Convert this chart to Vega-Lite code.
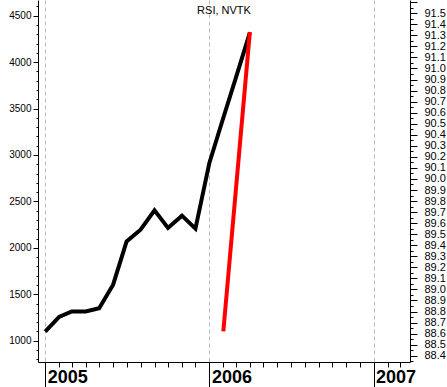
{
  "$schema": "https://vega.github.io/schema/vega-lite/v6.json",
  "width": 372,
  "height": 362,
  "autosize": "none",
  "padding": {"left": 38, "top": 0, "right": 37, "bottom": 25},
  "background": "white",
  "config": {
    "view": {"stroke": null},
    "font": "Liberation Sans",
    "axis": {"domainColor": "black", "tickColor": "black", "labelColor": "black", "labelFont": "Liberation Sans", "domainWidth": 1, "tickWidth": 1}
  },
  "title": {"text": "RSI, NVTK", "offset": -20, "fontSize": 11, "fontWeight": "normal", "font": "Liberation Sans", "color": "black"},
  "datasets": {
    "nvtk": [
      {"date": "2005-01-01", "price": 1097},
      {"date": "2005-02-01", "price": 1255},
      {"date": "2005-03-01", "price": 1315},
      {"date": "2005-04-01", "price": 1315},
      {"date": "2005-05-01", "price": 1350},
      {"date": "2005-06-01", "price": 1603},
      {"date": "2005-07-01", "price": 2069},
      {"date": "2005-08-01", "price": 2195},
      {"date": "2005-09-01", "price": 2403},
      {"date": "2005-10-01", "price": 2214},
      {"date": "2005-11-01", "price": 2346},
      {"date": "2005-12-01", "price": 2206},
      {"date": "2006-01-01", "price": 2914},
      {"date": "2006-02-01", "price": 3401},
      {"date": "2006-03-01", "price": 3832},
      {"date": "2006-04-01", "price": 4317}
    ],
    "rsi": [
      {"date": "2006-02-01", "rsi": 88.62},
      {"date": "2006-04-01", "rsi": 91.33}
    ]
  },
  "layer": [
    {
      "data": {"name": "nvtk"},
      "mark": {"type": "line", "color": "black", "strokeWidth": 4},
      "encoding": {
        "x": {
          "field": "date", "type": "temporal",
          "scale": {"type": "utc", "domain": [{"year": 2004, "month": 12, "date": 16, "utc": true}, {"year": 2007, "month": 3, "date": 23, "utc": true}]},
          "axis": {
            "title": null,
            "tickCount": {"interval": "month", "step": 1},
            "tickSize": {"condition": {"test": "utcmonth(datum.value) === 0", "value": 25}, "value": 5},
            "labelExpr": "utcmonth(datum.value) === 0 ? utcFormat(datum.value, '%Y') : ''",
            "labelAlign": "left",
            "labelBaseline": "top",
            "labelPadding": -19,
            "labelOffset": 2,
            "labelFontSize": 18,
            "labelFontWeight": "bold",
            "labelOverlap": false,
            "labelFlush": false,
            "labelBound": false,
            "grid": true,
            "gridDash": [4, 3],
            "gridColor": "#bbbbbb",
            "gridOpacity": {"condition": {"test": "utcmonth(datum.value) === 0", "value": 1}, "value": 0}
          }
        },
        "y": {
          "field": "price", "type": "quantitative",
          "scale": {"domain": [770, 4669], "nice": false, "zero": false},
          "axis": {
            "title": null,
            "orient": "left",
            "grid": false,
            "values": [800,900,1000,1100,1200,1300,1400,1500,1600,1700,1800,1900,2000,2100,2200,2300,2400,2500,2600,2700,2800,2900,3000,3100,3200,3300,3400,3500,3600,3700,3800,3900,4000,4100,4200,4300,4400,4500,4600],
            "labelExpr": "datum.value % 500 === 0 ? format(datum.value, 'd') : ''",
            "tickSize": {"condition": {"test": "datum.value % 500 === 0", "value": 5}, "value": 2},
            "labelFontSize": 10,
            "labelPadding": 2,
            "labelOverlap": false,
            "labelFlush": false
          }
        }
      }
    },
    {
      "data": {"name": "rsi"},
      "mark": {"type": "line", "color": "#ff0000", "strokeWidth": 4},
      "encoding": {
        "x": {"field": "date", "type": "temporal"},
        "y": {
          "field": "rsi", "type": "quantitative",
          "scale": {"domain": [88.343, 91.62], "nice": false, "zero": false},
          "axis": {
            "title": null,
            "orient": "right",
            "grid": false,
            "values": [88.35,88.4,88.45,88.5,88.55,88.6,88.65,88.7,88.75,88.8,88.85,88.9,88.95,89.0,89.05,89.1,89.15,89.2,89.25,89.3,89.35,89.4,89.45,89.5,89.55,89.6,89.65,89.7,89.75,89.8,89.85,89.9,89.95,90.0,90.05,90.1,90.15,90.2,90.25,90.3,90.35,90.4,90.45,90.5,90.55,90.6,90.65,90.7,90.75,90.8,90.85,90.9,90.95,91.0,91.05,91.1,91.15,91.2,91.25,91.3,91.35,91.4,91.45,91.5,91.55,91.6],
            "labelExpr": "abs(datum.value * 10 - round(datum.value * 10)) < 0.001 && datum.value < 91.55 ? format(datum.value, '.1f') : ''",
            "tickSize": {"condition": {"test": "abs(datum.value * 10 - round(datum.value * 10)) < 0.001", "value": 7}, "value": 3},
            "labelFontSize": 11,
            "labelPadding": 7,
            "labelOverlap": false,
            "labelFlush": false
          }
        }
      }
    }
  ],
  "resolve": {"scale": {"y": "independent"}, "axis": {"y": "independent"}}
}
